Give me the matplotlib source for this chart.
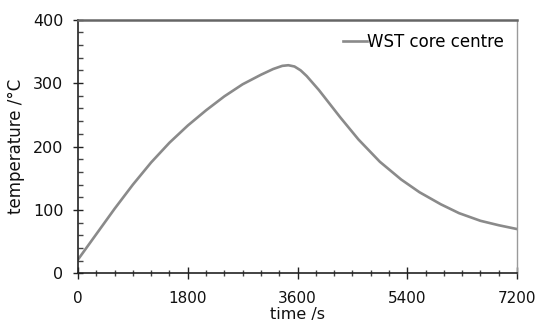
import matplotlib
matplotlib.use("Agg")
import matplotlib.pyplot as plt
from matplotlib.ticker import MultipleLocator

plt.rcParams['font.family'] = ['DejaVu Sans']

# Core-centre temperature history of the WST sample
time_s = [0, 300, 600, 900, 1200, 1500, 1800, 2100, 2400, 2700, 3000, 3200,
          3350, 3450, 3550, 3650, 3750, 3850, 3950, 4300, 4600, 4950, 5300,
          5600, 5950, 6250, 6600, 6900, 7200]
temp_c = [22, 62, 102, 140, 175, 206, 233, 257, 279, 298, 313, 322,
          327, 328, 326, 320, 311, 300, 289, 246, 211, 176, 148,
          128, 109, 95, 83, 76, 70]

series_label = "WST core centre"
x_ticks = [0, 1800, 3600, 5400, 7200]
y_ticks = [0, 100, 200, 300, 400]

fig = plt.figure(figsize=(5.37, 3.29), dpi=100)
ax = fig.add_axes([0.1453, 0.1687, 0.8175, 0.772])

ax.plot(time_s, temp_c, color="#8a8a8a", lw=1.9, label=series_label,
        solid_joinstyle='round')

ax.set_xlim(0, 7200)
ax.set_ylim(0, 400)
ax.set_xticks(x_ticks)
ax.set_yticks(y_ticks)
ax.xaxis.set_minor_locator(MultipleLocator(300))
ax.yaxis.set_minor_locator(MultipleLocator(20))

ax.tick_params(axis='x', which='major', direction='inout', length=9, width=1,
               colors='#222222', labelsize=11, pad=8)
ax.tick_params(axis='x', which='minor', direction='inout', length=4, width=1,
               colors='#444444')
ax.tick_params(axis='y', which='major', direction='inout', length=7, width=1,
               colors='#222222', labelsize=11.5, pad=7)
ax.tick_params(axis='y', which='minor', direction='in', length=3.5, width=1,
               colors='#444444')
for lab in ax.get_xticklabels() + ax.get_yticklabels():
    lab.set_color('#111111')

for side in ('left', 'bottom'):
    ax.spines[side].set_color('#222222')
    ax.spines[side].set_linewidth(1.2)
ax.spines['top'].set_color('#666666')
ax.spines['top'].set_linewidth(1.8)
ax.spines['right'].set_color('#9a9a9a')
ax.spines['right'].set_linewidth(1.0)

ax.set_xlabel("time /s", fontsize=11.5, color='#111111', labelpad=1)
ax.set_ylabel("temperature /°C", fontsize=12, color='#111111', labelpad=6)

ax.legend(loc='upper right', frameon=False, fontsize=12, handlelength=1.4,
          handletextpad=0.0, borderaxespad=0.5, borderpad=0.3)

fig.savefig("out.png", dpi=100)
